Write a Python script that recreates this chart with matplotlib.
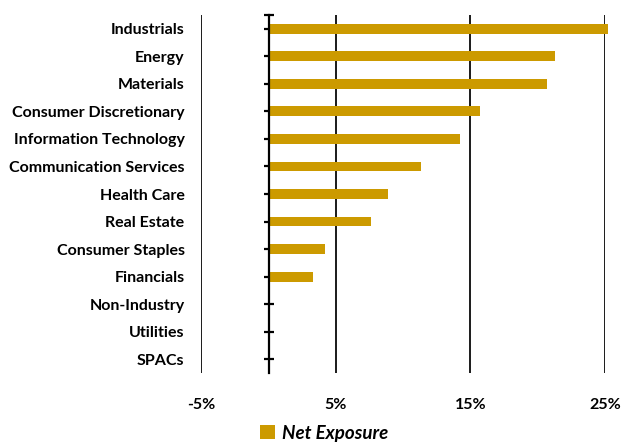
import numpy as np
import matplotlib
matplotlib.use("Agg")
import matplotlib.pyplot as plt
from matplotlib.ticker import FuncFormatter

# ==============================
# DATA
# ==============================
sectors = [
    "Industrials", "Energy", "Materials", "Consumer Discretionary",
    "Information Technology", "Communication Services", "Health Care",
    "Real Estate", "Consumer Staples", "Financials", "Non-Industry",
    "Utilities", "SPACs",
]
net_exposure = [25.2, 21.3, 20.7, 15.7, 14.2, 11.3, 8.9, 7.6, 4.2, 3.3, 0.0, 0.0, 0.0]
x_ticks = [-5, 5, 15, 25]
series_name = "Net Exposure"

BAR_COLOR = "#CC9A00"

plt.rcParams["font.family"] = ["Lato", "DejaVu Sans"]

# ==============================
# FIGURE
# ==============================
fig = plt.figure(figsize=(6.23, 4.42), dpi=100)
ax = fig.add_axes([201.3 / 623, 1 - 373 / 442, (605 - 201.3) / 623, (373 - 15) / 442])

y = np.arange(len(sectors))
bars = ax.barh(y, net_exposure, height=0.36, color=BAR_COLOR, zorder=3,
               label=series_name, clip_on=False)

ax.set_xlim(-5, 25)
ax.set_ylim(len(sectors) - 0.5, -0.5)

# vertical grid lines
ax.set_xticks(x_ticks)
ax.xaxis.set_major_formatter(FuncFormatter(lambda v, p: f"{v:.0f}%"))
ax.grid(axis="x", color="#1a1a1a", linewidth=1.4, zorder=1)
ax.tick_params(axis="x", length=0, pad=18, labelsize=11.5)
for lbl in ax.get_xticklabels():
    lbl.set_fontweight("bold")

# category axis sits on zero
for s in ["top", "right", "bottom"]:
    ax.spines[s].set_visible(False)
ax.spines["left"].set_position(("data", 0))
ax.spines["left"].set_linewidth(1.6)
ax.spines["left"].set_zorder(4)
ax.set_yticks(y)
ax.set_yticklabels(sectors)
ax.set_yticks([-0.5], minor=True)
ax.tick_params(axis="y", which="both", direction="inout", length=7, width=1.6,
               pad=57, labelsize=11.5)
for lbl in ax.get_yticklabels():
    lbl.set_fontweight("bold")

# ==============================
# LEGEND
# ==============================
leg = fig.legend(handles=[bars], labels=[series_name],
                 loc="center left", bbox_to_anchor=(252 / 623, 1 - 433 / 442),
                 frameon=False, handlelength=0.8, handleheight=0.8,
                 handletextpad=0.4, borderaxespad=0,
                 prop={"weight": "bold", "style": "italic", "size": 13.5})

fig.savefig("out.png", dpi=100)
